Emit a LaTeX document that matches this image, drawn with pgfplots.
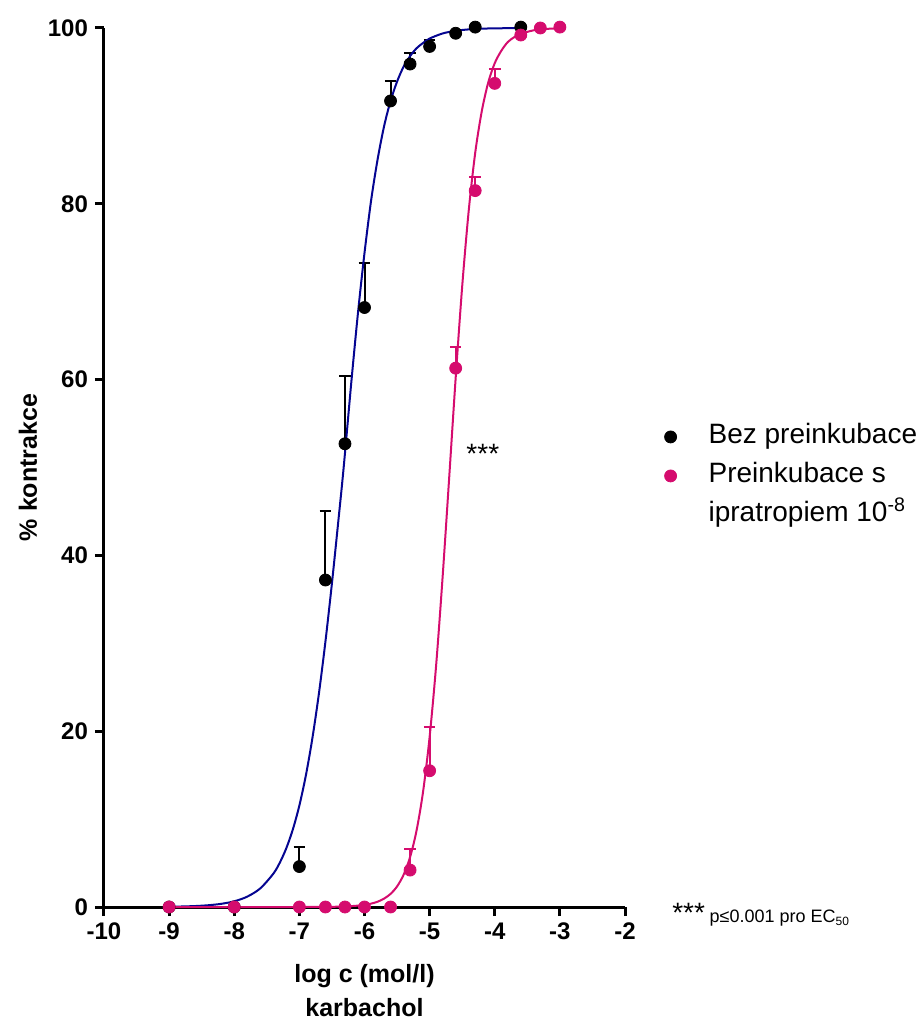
\documentclass[border=0pt]{standalone}
\usepackage{fontspec}
\setmainfont{Liberation Sans}
\usepackage{pgfplots}
\usepackage{pgfplotstable}
\pgfplotsset{compat=1.18}
\definecolor{curveblue}{RGB}{5,5,145}
\definecolor{ptpink}{RGB}{213,12,110}

\pgfplotstableread{
x y ey
-9 0 0
-8 0 0
-7 4.6 2.2
-6.6 37.2 7.8
-6.3 52.7 7.7
-6 68.2 5.1
-5.6 91.7 2.3
-5.3 95.9 1.3
-5 97.9 0.7
-4.6 99.4 0
-4.3 100.1 0
-3.6 100.1 0
}\blackpts

\pgfplotstableread{
x y ey
-9 0 0
-8 0 0
-7 0 0
-6.6 0 0
-6.3 0 0
-6 0 0
-5.6 0 0
-5.3 4.2 2.4
-5 15.5 5.0
-4.6 61.3 2.4
-4.3 81.5 1.6
-4 93.7 1.6
-3.6 99.2 0
-3.3 100.0 0
-3 100.1 0
}\pinkpts

\pgfplotstableread{
x y
-9 0.03
-8.8 0.06
-8.6 0.11
-8.4 0.2
-8.2 0.36
-8 0.65
-7.8 1.18
-7.6 2.12
-7.4 3.79
-7.3 5.05
-7.2 6.7
-7.1 8.83
-7 11.55
-6.9 14.98
-6.8 19.21
-6.7 24.28
-6.6 30.19
-6.5 36.83
-6.4 44.04
-6.32 50
-6.2 59.9
-6.1 67.6
-6 74.4
-5.9 80.3
-5.8 85.0
-5.7 88.8
-5.6 91.7
-5.5 93.9
-5.4 95.6
-5.3 96.8
-5.2 97.7
-5.1 98.3
-5 98.8
-4.8 99.38
-4.6 99.68
-4.4 99.84
-4.2 99.92
-4 99.96
-3.6 99.99
}\bluecurve

\pgfplotstableread{
x y
-9 0
-8 0
-7 0
-6.5 0.02
-6.2 0.1
-6 0.24
-5.9 0.38
-5.8 0.6
-5.7 0.95
-5.6 1.49
-5.5 2.34
-5.4 3.66
-5.3 5.68
-5.2 8.72
-5.1 13.15
-5 19.35
-4.9 27.5
-4.8 37.6
-4.7 48.8
-4.6 60.2
-4.5 70.6
-4.4 79.2
-4.3 85.8
-4.2 90.5
-4.1 93.8
-4 96.0
-3.9 97.4
-3.8 98.4
-3.7 98.96
-3.6 99.34
-3.4 99.74
-3.2 99.9
-3 99.96
}\pinkcurve

\begin{document}
\begin{tikzpicture}
\begin{axis}[
  scale only axis,
  width=260.5pt, height=439.5pt,
  xmin=-10, xmax=-2, ymin=0, ymax=100,
  axis x line*=bottom, axis y line*=left,
  axis line style={line width=1.5pt},
  xtick={-10,-9,...,-2}, ytick={0,20,...,100},
  minor tick num=0,
  tick align=outside,
  major tick length=4.5pt,
  every tick/.style={line width=1.5pt, black},
  /pgf/number format/assume math mode=true,
  ticklabel style={font=\bfseries\fontsize{12}{14}\selectfont},
  clip=false,
  xlabel={log c (mol/l)\\karbachol},
  xlabel style={at={(axis description cs:0.5,-0.065)}, anchor=north, align=center, inner sep=0pt,
    font=\bfseries\fontsize{12.5}{17}\selectfont},
  ylabel={\% kontrakce},
  ylabel style={at={(axis description cs:-0.146,0.5)}, anchor=center, rotate=0, inner sep=0pt,
    font=\bfseries\fontsize{12.5}{15}\selectfont},
  legend cell align=left,
  legend style={at={(rel axis cs:1.054,0.550)}, anchor=north west, draw=none, fill=none,
    inner sep=0pt, row sep=6.5pt, column sep=16pt, font=\fontsize{14}{16}\selectfont,
    nodes={inner sep=0pt, text height=10pt, text depth=3pt}},
]
\coordinate (O) at (rel axis cs:0,0);
\addplot[only marks, mark=*, mark size=3pt, draw=black, fill=black,
  mark options={draw=black, fill=black},
  error bars/.cd, y dir=plus, y explicit,
  error bar style={line width=1pt, black},
  error mark options={rotate=90, mark size=2.9pt, line width=1pt, black}]
  table[x=x, y=y, y error=ey] {\blackpts};
\addlegendentry{Bez preinkubace}
\addplot[only marks, mark=*, mark size=3pt, draw=ptpink, fill=ptpink,
  mark options={draw=ptpink, fill=ptpink},
  error bars/.cd, y dir=plus, y explicit,
  error bar style={line width=1pt, ptpink},
  error mark options={rotate=90, mark size=2.9pt, line width=1pt, ptpink}]
  table[x=x, y=y, y error=ey] {\pinkpts};
\addlegendentry{Preinkubace s}
\addplot[forget plot, no marks, smooth, curveblue, line width=1pt] table[x=x, y=y] {\bluecurve};
\addplot[forget plot, no marks, smooth, ptpink, line width=1pt] table[x=x, y=y] {\pinkcurve};
\addlegendimage{empty legend}
\addlegendentry{ipratropiem 10\textsuperscript{-8}}
\node[anchor=base west, inner sep=0pt, font=\fontsize{14}{16}\selectfont] at (axis cs:-4.44,50.4) {***};
\node[anchor=base west, inner sep=0pt] at (axis cs:-1.28,-1.82)
  {\fontsize{14}{16}\selectfont ***\,\fontsize{9}{11}\selectfont p≤0.001 pro EC\textsubscript{50}};
\end{axis}
\pgfresetboundingbox
\path[use as bounding box] ([shift={(-52pt,-57pt)}]O) rectangle ([shift={(410pt,453.5pt)}]O);
\end{tikzpicture}
\end{document}
